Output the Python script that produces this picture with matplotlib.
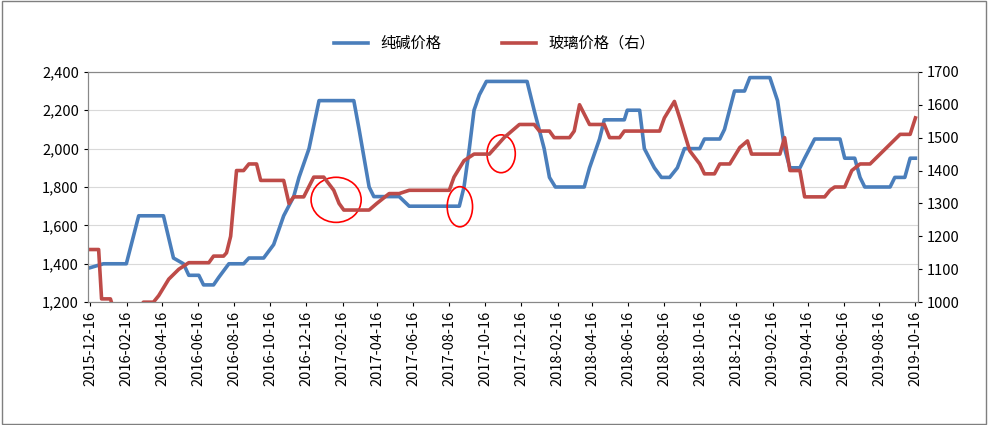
import numpy as np
import pandas as pd
import matplotlib
matplotlib.use("Agg")
import matplotlib.pyplot as plt
from matplotlib.patches import Ellipse

plt.rcParams['font.family'] = ['Noto Sans CJK SC', 'DejaVu Sans']

start = pd.Timestamp("2015-12-16")

# soda ash price (left axis): day offsets from start, values
soda_days = [0, 22, 61, 82, 124, 141, 158, 167, 184, 192, 209, 218, 235, 260, 269, 294, 311, 328,
             345, 354, 371, 388, 447, 456, 473, 481, 524, 541, 626, 634, 643, 651, 660, 672, 741,
             753, 770, 779, 789, 838, 847, 864, 872, 906, 911, 932, 940, 957, 969, 983, 996, 1008,
             1034, 1042, 1068, 1076, 1093, 1110, 1119, 1153, 1166, 1178, 1187, 1204, 1212, 1229,
             1272, 1280, 1297, 1306, 1314, 1357, 1365, 1382, 1391, 1400]
soda_vals = [1380, 1400, 1400, 1650, 1650, 1430, 1400, 1340, 1340, 1290, 1290, 1330, 1400, 1400,
             1430, 1430, 1500, 1650, 1750, 1850, 2000, 2250, 2250, 2100, 1800, 1750, 1750, 1700,
             1700, 1800, 2000, 2200, 2280, 2350, 2350, 2200, 2000, 1850, 1800, 1800, 1900, 2050,
             2150, 2150, 2200, 2200, 2000, 1900, 1850, 1850, 1900, 2000, 2000, 2050, 2050, 2100,
             2300, 2300, 2370, 2370, 2250, 2000, 1900, 1900, 1950, 2050, 2050, 1950, 1950, 1850,
             1800, 1800, 1850, 1850, 1950, 1950]

# glass price (right axis)
glass_days = [0, 14, 19, 34, 39, 82, 90, 107, 116, 133, 150, 167, 201, 209, 226, 231, 238, 248,
              260, 269, 282, 289, 328, 337, 345, 362, 379, 396, 413, 422, 430, 473, 486, 507, 524,
              541, 609, 617, 634, 651, 677, 702, 728, 753, 762, 779, 787, 813, 821, 830, 847, 872,
              881, 898, 906, 966, 974, 991, 1000, 1017, 1034, 1042, 1059, 1068, 1085, 1102, 1115,
              1122, 1170, 1178, 1187, 1204, 1212, 1246, 1255, 1263, 1280, 1292, 1306, 1323, 1340,
              1357, 1374, 1391, 1400]
glass_vals = [1160, 1160, 1010, 1010, 980, 980, 1000, 1000, 1020, 1070, 1100, 1120, 1120, 1140,
              1140, 1150, 1200, 1400, 1400, 1420, 1420, 1370, 1370, 1300, 1320, 1320, 1380, 1380,
              1340, 1300, 1280, 1280, 1300, 1330, 1330, 1340, 1340, 1380, 1430, 1450, 1450, 1500,
              1540, 1540, 1520, 1520, 1500, 1500, 1520, 1600, 1540, 1540, 1500, 1500, 1520, 1520,
              1560, 1610, 1560, 1460, 1420, 1390, 1390, 1420, 1420, 1470, 1490, 1450, 1450, 1500,
              1400, 1400, 1320, 1320, 1340, 1350, 1350, 1400, 1420, 1420, 1450, 1480, 1510, 1510,
              1560]

# highlighted spots (day offset, right-axis value, width days, height)
circles = [(417, 1311, 85, 137), (627, 1290, 43, 122), (697, 1451, 48, 115)]

soda_dates = [start + pd.Timedelta(days=d) for d in soda_days]
glass_dates = [start + pd.Timedelta(days=d) for d in glass_days]
tick_dates = list(pd.date_range("2015-12-01", "2019-10-01", freq="2MS") + pd.Timedelta(days=15))

fig = plt.figure(figsize=(9.89, 4.25), dpi=100)
ax = fig.add_axes([0.089, 0.289, 0.839, 0.542])
ax2 = ax.twinx()

blue = "#4a7ebb"
red = "#be4b48"
l1, = ax.plot(soda_dates, soda_vals, color=blue, lw=2.6, label="纯碱价格")
l2, = ax2.plot(glass_dates, glass_vals, color=red, lw=2.6, label="玻璃价格（右）")

ax.set_ylim(1200, 2400)
ax.set_yticks(np.arange(1200, 2401, 200))
ax.set_yticklabels([f"{v:,}" for v in range(1200, 2401, 200)])
ax2.set_ylim(1000, 1700)
ax2.set_yticks(np.arange(1000, 1701, 100))
ax.set_xlim(start - pd.Timedelta(days=4), start + pd.Timedelta(days=1404))
ax.set_xticks(tick_dates)
ax.set_xticklabels([d.strftime("%Y-%m-%d") for d in tick_dates], rotation=90)
ax.grid(axis="y", color="#d9d9d9", lw=0.8)
ax.set_axisbelow(True)
for a in (ax, ax2):
    a.tick_params(labelsize=10.5, length=3)
    for s in a.spines.values():
        s.set_color("#888888")

for d, v, w, h in circles:
    ax2.add_patch(Ellipse((matplotlib.dates.date2num(start + pd.Timedelta(days=d)), v),
                          w, h, fill=False, edgecolor="red", lw=1.2))

fig.legend(handles=[l1, l2], loc="upper center", bbox_to_anchor=(0.5, 0.95), ncol=2,
           frameon=False, fontsize=11, handlelength=2.2, columnspacing=4)
fig.patches.append(plt.Rectangle((0.002, 0.003), 0.995, 0.994, transform=fig.transFigure,
                                 fill=False, edgecolor="#7f7f7f", lw=1))
fig.savefig("out.png")
